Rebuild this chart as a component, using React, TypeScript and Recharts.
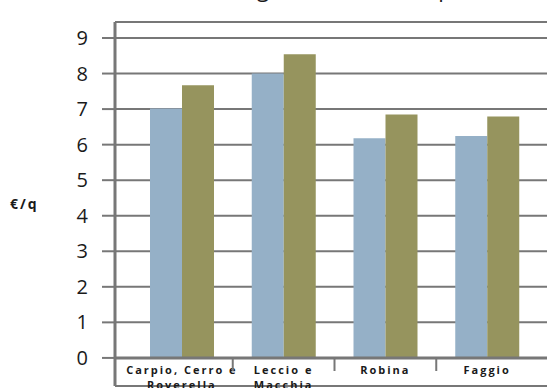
import React from 'react';
import { BarChart, Bar, XAxis, YAxis, CartesianGrid, ReferenceLine } from 'recharts';

const categories = [['Carpio, Cerro e', 'Roverella'], ['Leccio e', 'Macchia'], ['Robina'], ['Faggio']];
const serieA = [7.02, 8.0, 6.18, 6.24];
const serieB = [7.67, 8.54, 6.85, 6.79];
const yTicks = [0, 1, 2, 3, 4, 5, 6, 7, 8, 9];

const data = categories.map((lines, i) => ({
  name: lines.join(' '),
  lines,
  a: serieA[i],
  b: serieB[i],
}));

const GRAY = '#777777';

const CatTick = (props: any) => {
  const { x, y, payload, index } = props;
  const lines: string[] = data[index] ? data[index].lines : [payload.value];
  const half = payload && payload.offset ? payload.offset : 51;
  // y here is the bottom of the plot, the zero line sits 28px above it
  const base = y - 28;
  return (
    <g>
      {index > 0 && (
        <line x1={x - half} x2={x - half} y1={base} y2={base + 13} stroke={GRAY} strokeWidth={2} />
      )}
      {lines.map((l, k) => (
        <text
          key={k}
          x={x}
          y={base + 16 + k * 15}
          textAnchor="middle"
          fontFamily="'Open Sans', sans-serif"
          fontWeight="bold"
          fontSize={11}
          letterSpacing={2}
          fill="#1a1a1a"
        >
          {l}
        </text>
      ))}
    </g>
  );
};

const App: React.FC = () => {
  return (
    <div style={{ position: 'absolute', left: 0, top: 0, background: '#fff' }}>
      <BarChart
        width={547}
        height={388}
        data={data}
        margin={{ top: 22, right: 0, bottom: 0, left: 0 }}
        barGap={0}
        barSize={32}
      >
        <text
          x={503}
          y={-3}
          textAnchor="end"
          fontFamily="'Open Sans', sans-serif"
          fontSize={22}
          fill="#1a1a1a"
        >
          Prezzi della legna da ardere (imposto)
        </text>
        <CartesianGrid vertical={false} stroke={GRAY} strokeWidth={2} />
        <XAxis
          dataKey="name"
          height={2}
          axisLine={false}
          tickLine={false}
          tickSize={0}
          tickMargin={0}
          interval={0}
          padding={{ left: 16, right: 9 }}
          tick={<CatTick />}
        />
        <YAxis
          width={115}
          type="number"
          domain={[-0.79, 9.45]}
          ticks={yTicks}
          interval={0}
          axisLine={{ stroke: GRAY, strokeWidth: 3 }}
          tickLine={{ stroke: GRAY, strokeWidth: 2 }}
          tickSize={13}
          tickMargin={14}
          tick={{ fontFamily: "'Open Sans', sans-serif", fontSize: 20, fill: '#1a1a1a' }}
          label={{
            value: '€/q',
            position: 'insideLeft',
            offset: 10,
            angle: 0,
            style: { fontFamily: "'Open Sans', sans-serif", fontWeight: 'bold', fontSize: 14, letterSpacing: 2, fill: '#1a1a1a', textAnchor: 'start' },
          }}
        />
        <Bar dataKey="a" fill="#95B0C7" isAnimationActive={false} />
        <Bar dataKey="b" fill="#96945E" isAnimationActive={false} />
        <ReferenceLine y={0} stroke={GRAY} strokeWidth={3} />
      </BarChart>
    </div>
  );
};

export default App;
